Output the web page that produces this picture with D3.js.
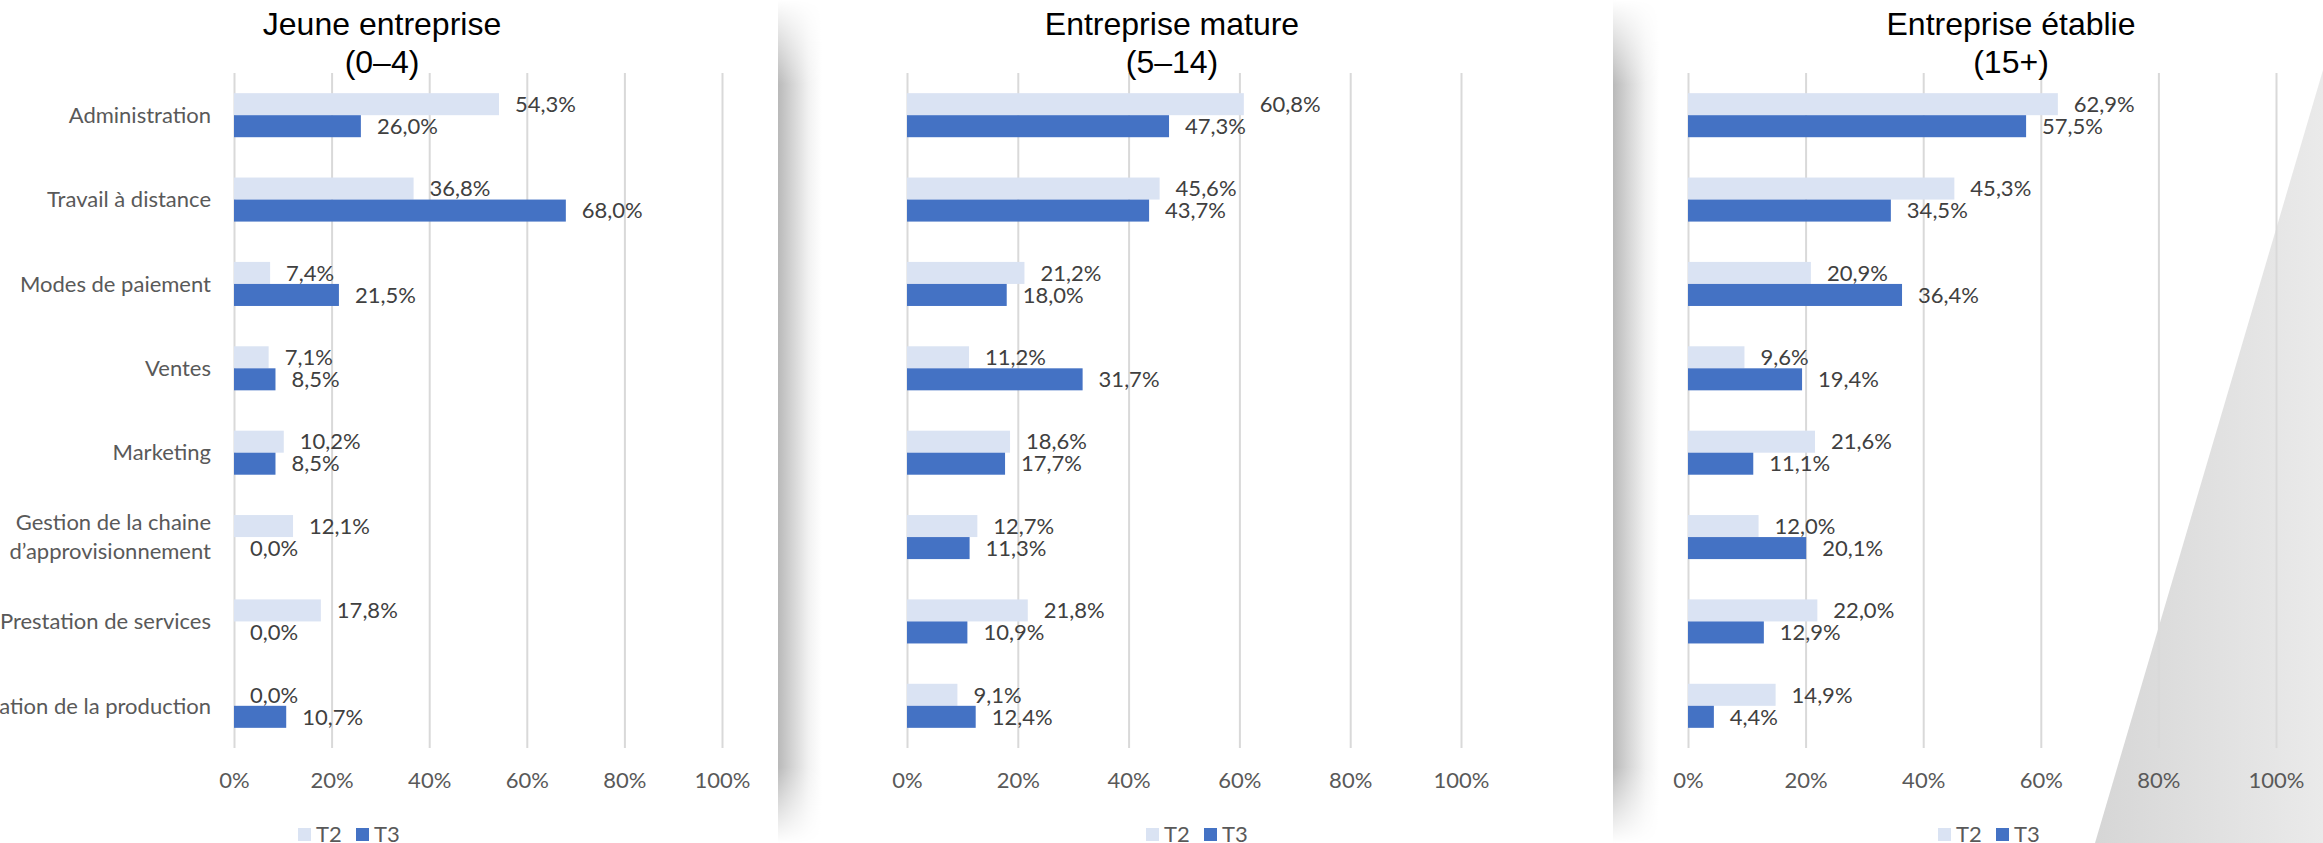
<!DOCTYPE html>
<html>
<head>
<meta charset="utf-8">
<script src="https://cdn.jsdelivr.net/npm/d3@7"></script>
<style>
  html, body { margin: 0; padding: 0; background: #ffffff; }
  svg { display: block; }
</style>
</head>
<body>
<svg id="chart" width="2323" height="843"></svg>
<script>
// ---------------- DATA ----------------
const categories = [
  "Administration",
  "Travail à distance",
  "Modes de paiement",
  "Ventes",
  "Marketing",
  "Gestion de la chaine d’approvisionnement",
  "Prestation de services",
  "Automatisation de la production"
];
const categoryLines = {
  "Gestion de la chaine d’approvisionnement": ["Gestion de la chaine", "d’approvisionnement"]
};
const seriesNames = ["T2", "T3"];
const panelTitles = [
  ["Jeune entreprise", "(0–4)"],
  ["Entreprise mature", "(5–14)"],
  ["Entreprise établie", "(15+)"]
];
const jeuneT2   = [54.3, 36.8, 7.4, 7.1, 10.2, 12.1, 17.8, 0.0];
const jeuneT3   = [26.0, 68.0, 21.5, 8.5, 8.5, 0.0, 0.0, 10.7];
const matureT2  = [60.8, 45.6, 21.2, 11.2, 18.6, 12.7, 21.8, 9.1];
const matureT3  = [47.3, 43.7, 18.0, 31.7, 17.7, 11.3, 10.9, 12.4];
const etablieT2 = [62.9, 45.3, 20.9, 9.6, 21.6, 12.0, 22.0, 14.9];
const etablieT3 = [57.5, 34.5, 36.4, 19.4, 11.1, 20.1, 12.9, 4.4];
const tickValues = [0, 20, 40, 60, 80, 100];

// ---------------- STYLE / LAYOUT ----------------
const colors = { T2: "#dae3f3", T3: "#4472c4" };
const labelFont = "Lato, 'Open Sans', sans-serif";
const titleFont = "'Liberation Sans', Arial, sans-serif";
const plotTop = 73, plotBottom = 748;

const panels = [
  { title: panelTitles[0], T2: jeuneT2,   T3: jeuneT3,   x0: 234,  x1: 722,  titleX: 382,  legendX: 298,  showCats: true },
  { title: panelTitles[1], T2: matureT2,  T3: matureT3,  x0: 907,  x1: 1461, titleX: 1172, legendX: 1146, showCats: false },
  { title: panelTitles[2], T2: etablieT2, T3: etablieT3, x0: 1688, x1: 2276, titleX: 2011, legendX: 1938, showCats: false }
];

const svg = d3.select("#chart");
const defs = svg.append("defs");

// shadow gradients
const sg = defs.append("linearGradient").attr("id", "shadowH")
  .attr("x1", 0).attr("x2", 1).attr("y1", 0).attr("y2", 0);
sg.append("stop").attr("offset", 0).attr("stop-color", "#b9b9b9");
sg.append("stop").attr("offset", 0.3).attr("stop-color", "#d2d2d2");
sg.append("stop").attr("offset", 0.7).attr("stop-color", "#f2f2f2");
sg.append("stop").attr("offset", 1).attr("stop-color", "#ffffff");

const mg = defs.append("linearGradient").attr("id", "fadeV")
  .attr("x1", 0).attr("x2", 0).attr("y1", 0).attr("y2", 1);
mg.append("stop").attr("offset", 0).attr("stop-color", "#000");
mg.append("stop").attr("offset", 0.1).attr("stop-color", "#fff");
mg.append("stop").attr("offset", 0.91).attr("stop-color", "#fff");
mg.append("stop").attr("offset", 1).attr("stop-color", "#000");
const mask = defs.append("mask").attr("id", "shadowMask")
  .attr("maskContentUnits", "objectBoundingBox");
mask.append("rect").attr("x", 0).attr("y", 0).attr("width", 1).attr("height", 1)
  .attr("fill", "url(#fadeV)");

const tg = defs.append("linearGradient").attr("id", "triGrad")
  .attr("x1", 0).attr("x2", 1).attr("y1", 0).attr("y2", 0);
tg.append("stop").attr("offset", 0).attr("stop-color", "#d6d6d6");
tg.append("stop").attr("offset", 1).attr("stop-color", "#eaeaea");

svg.append("rect").attr("width", 2323).attr("height", 843).attr("fill", "#ffffff");

[[778, 44], [1613, 46]].forEach(([sx, sw]) => {
  svg.append("rect").attr("x", sx).attr("y", 0).attr("width", sw).attr("height", 843)
    .attr("fill", "url(#shadowH)").attr("mask", "url(#shadowMask)");
});

svg.append("path")
  .attr("d", "M2323,70 L2095,843 L2323,843 Z")
  .attr("fill", "url(#triGrad)");

const fmt = d3.formatLocale({ decimal: ",", thousands: " ", grouping: [3], currency: ["", "€"] }).format(".1f");

const y = d3.scaleBand().domain(categories).range([plotTop, plotBottom])
  .paddingInner(0.478).paddingOuter(0.239);
const ySub = d3.scaleBand().domain(seriesNames).range([0, y.bandwidth()]);

panels.forEach(p => {
  const g = svg.append("g");
  const x = d3.scaleLinear().domain([0, 100]).range([p.x0, p.x1]);

  // axis + gridlines
  const ax = g.append("g").attr("transform", `translate(0,${plotBottom})`)
    .call(d3.axisBottom(x).tickValues(tickValues).tickSize(-(plotBottom - plotTop))
      .tickPadding(24).tickFormat(d => d + "%"));
  ax.select(".domain").remove();
  ax.selectAll(".tick line").attr("stroke", "#d9d9d9").attr("stroke-width", 2);
  ax.selectAll(".tick text").attr("fill", "#595959")
    .style("font-family", labelFont).style("font-size", "22px");

  // bars
  const rows = categories.map((c, i) => ({ cat: c, T2: p.T2[i], T3: p.T3[i] }));
  const grp = g.selectAll("g.cat").data(rows).join("g").attr("class", "cat")
    .attr("transform", d => `translate(0,${y(d.cat)})`);
  seriesNames.forEach(s => {
    grp.append("rect")
      .attr("x", x(0))
      .attr("y", ySub(s))
      .attr("height", ySub.bandwidth())
      .attr("width", d => x(d[s]) - x(0))
      .attr("fill", colors[s]);
    grp.append("text")
      .attr("x", d => x(d[s]) + 16)
      .attr("y", ySub(s) + ySub.bandwidth() / 2)
      .attr("dy", "0.35em")
      .attr("fill", "#404040")
      .style("font-family", labelFont).style("font-size", "22px")
      .text(d => fmt(d[s]) + "%");
  });

  // category labels
  if (p.showCats) {
    categories.forEach(c => {
      const lines = categoryLines[c] || [c];
      const cy = y(c) + y.bandwidth() / 2;
      const t = g.append("text")
        .attr("text-anchor", "end")
        .attr("fill", "#595959")
        .style("font-family", labelFont).style("font-size", "22px");
      lines.forEach((ln, i) => {
        t.append("tspan")
          .attr("x", p.x0 - 23)
          .attr("y", cy + (i - (lines.length - 1) / 2) * 29)
          .attr("dy", "0.35em")
          .text(ln);
      });
    });
  }

  // title
  const tt = g.append("text").attr("text-anchor", "middle").attr("fill", "#000")
    .style("font-family", titleFont).style("font-size", "32px");
  p.title.forEach((ln, i) => {
    tt.append("tspan").attr("x", p.titleX).attr("y", 35 + i * 38).text(ln);
  });

  // legend
  const lg = g.append("g").attr("transform", `translate(${p.legendX},0)`);
  seriesNames.forEach((s, i) => {
    const ox = i * 58;
    lg.append("rect").attr("x", ox).attr("y", 828).attr("width", 13).attr("height", 13)
      .attr("fill", colors[s]);
    lg.append("text").attr("x", ox + 18).attr("y", 842)
      .attr("fill", "#595959")
      .style("font-family", labelFont).style("font-size", "22px")
      .text(s);
  });
});
</script>
</body>
</html>
